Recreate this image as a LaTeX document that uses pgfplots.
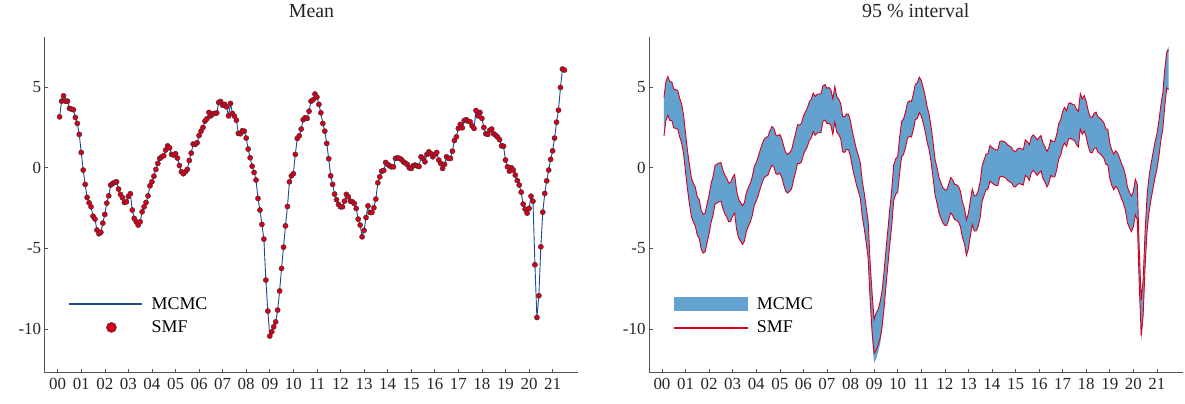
\documentclass[border=0pt]{standalone}
\usepackage{fontspec}
\setmainfont{Liberation Serif}
\usepackage{pgfplots}
\pgfplotsset{compat=1.18}
\usepackage{pgfplotstable}

\definecolor{lineblue}{RGB}{28,72,150}
\definecolor{smfred}{RGB}{214,0,28}
\definecolor{bandblue}{RGB}{99,161,207}
\definecolor{axisgray}{RGB}{85,85,85}

% monthly series, k = 0 is Jan 2000; m = mean, lo/hi = 95% interval
\pgfplotstableread{
k m lo hi
0 3.16 1.96 4.36
1 4.13 2.93 5.33
2 4.46 3.26 5.66
3 4.13 2.93 5.33
4 4.13 2.93 5.33
5 3.68 2.48 4.88
6 3.64 2.44 4.84
7 3.60 2.40 4.80
8 3.12 1.92 4.32
9 2.75 1.55 3.95
10 2.07 0.87 3.27
11 0.95 -0.25 2.15
12 -0.14 -1.34 1.06
13 -1.03 -2.23 0.17
14 -1.84 -3.04 -0.64
15 -2.17 -3.37 -0.97
16 -2.42 -3.62 -1.22
17 -3.00 -4.20 -1.80
18 -3.18 -4.38 -1.98
19 -3.86 -5.06 -2.66
20 -4.09 -5.29 -2.89
21 -4.00 -5.20 -2.80
22 -3.43 -4.63 -2.23
23 -2.89 -4.09 -1.69
24 -2.19 -3.39 -0.99
25 -1.74 -2.94 -0.54
26 -1.07 -2.27 0.13
27 -0.97 -2.17 0.23
28 -0.91 -2.11 0.29
29 -0.87 -2.07 0.33
30 -1.32 -2.52 -0.12
31 -1.65 -2.85 -0.45
32 -1.86 -3.06 -0.66
33 -2.15 -3.35 -0.95
34 -2.11 -3.31 -0.91
35 -1.78 -2.98 -0.58
36 -1.61 -2.81 -0.41
37 -2.62 -3.82 -1.42
38 -3.14 -4.34 -1.94
39 -3.35 -4.55 -2.15
40 -3.55 -4.75 -2.35
41 -3.35 -4.55 -2.15
42 -2.73 -3.93 -1.53
43 -2.42 -3.62 -1.22
44 -2.15 -3.35 -0.95
45 -1.74 -2.94 -0.54
46 -1.12 -2.32 0.08
47 -0.87 -2.07 0.33
48 -0.52 -1.72 0.68
49 -0.10 -1.30 1.10
50 0.27 -0.93 1.47
51 0.58 -0.62 1.78
52 0.68 -0.52 1.88
53 0.75 -0.45 1.95
54 1.10 -0.10 2.30
55 1.36 0.16 2.56
56 1.24 0.04 2.44
57 0.83 -0.37 2.03
58 0.79 -0.41 1.99
59 0.87 -0.33 2.07
60 0.60 -0.60 1.80
61 0.14 -1.06 1.34
62 -0.25 -1.45 0.95
63 -0.37 -1.57 0.83
64 -0.25 -1.45 0.95
65 -0.10 -1.30 1.10
66 0.45 -0.75 1.65
67 0.91 -0.29 2.11
68 1.47 0.27 2.67
69 1.45 0.25 2.65
70 1.55 0.35 2.75
71 2.00 0.80 3.20
72 2.27 1.07 3.47
73 2.50 1.30 3.70
74 2.89 1.69 4.09
75 3.04 1.84 4.24
76 3.43 2.23 4.63
77 3.22 2.02 4.42
78 3.35 2.15 4.55
79 3.37 2.17 4.57
80 3.40 2.20 4.60
81 4.05 2.90 5.10
82 4.11 2.96 5.16
83 3.88 2.73 4.93
84 3.93 2.78 4.98
85 3.78 2.63 4.83
86 3.22 2.07 4.27
87 3.99 2.84 5.04
88 3.37 2.22 4.42
89 3.20 2.05 4.25
90 2.95 1.80 4.00
91 2.13 0.98 3.18
92 2.11 0.96 3.16
93 2.29 1.14 3.34
94 2.27 1.12 3.32
95 1.84 0.69 2.89
96 1.16 0.01 2.21
97 0.62 -0.53 1.67
98 0.10 -1.05 1.15
99 -0.29 -1.44 0.76
100 -0.76 -1.91 0.29
101 -1.90 -3.05 -0.85
102 -2.62 -3.77 -1.57
103 -3.51 -4.66 -2.46
104 -4.42 -5.65 -3.35
105 -6.96 -8.20 -5.90
106 -8.88 -10.20 -7.80
107 -10.43 -11.50 -9.40
108 -10.17 -11.30 -9.00
109 -9.86 -11.00 -8.80
110 -9.55 -10.60 -8.35
111 -8.82 -9.90 -7.70
112 -7.64 -8.80 -6.55
113 -6.24 -7.40 -5.15
114 -4.92 -6.07 -3.87
115 -3.60 -4.75 -2.55
116 -2.40 -3.55 -1.35
117 -0.87 -2.02 0.18
118 -0.50 -1.65 0.55
119 -0.37 -1.52 0.68
120 0.83 -0.32 1.88
121 1.82 0.67 2.87
122 1.98 0.83 3.03
123 2.40 1.25 3.45
124 2.98 1.83 4.03
125 3.10 1.95 4.15
126 3.06 1.91 4.11
127 3.51 2.36 4.56
128 4.13 2.98 5.18
129 4.21 3.06 5.26
130 4.57 3.42 5.62
131 4.38 3.23 5.43
132 3.93 2.78 4.98
133 3.41 2.26 4.46
134 2.75 1.60 3.80
135 2.27 1.12 3.32
136 1.51 0.36 2.56
137 0.56 -0.59 1.61
138 -0.50 -1.65 0.55
139 -1.03 -2.18 0.02
140 -1.63 -2.78 -0.58
141 -1.98 -3.13 -0.93
142 -2.27 -3.42 -1.22
143 -2.42 -3.57 -1.37
144 -2.42 -3.57 -1.37
145 -2.07 -3.22 -1.02
146 -1.65 -2.80 -0.60
147 -1.80 -2.95 -0.75
148 -2.07 -3.22 -1.02
149 -2.11 -3.26 -1.06
150 -2.21 -3.36 -1.16
151 -2.52 -3.67 -1.47
152 -3.18 -4.33 -2.13
153 -3.55 -4.70 -2.50
154 -4.28 -5.43 -3.23
155 -3.88 -5.03 -2.83
156 -3.08 -4.23 -2.03
157 -2.36 -3.51 -1.31
158 -2.77 -3.92 -1.72
159 -2.77 -3.92 -1.72
160 -2.48 -3.63 -1.43
161 -1.94 -3.09 -0.89
162 -0.93 -2.08 0.12
163 -0.56 -1.71 0.49
164 -0.21 -1.36 0.84
165 -0.17 -1.32 0.88
166 0.33 -0.82 1.38
167 0.21 -0.94 1.26
168 0.12 -1.03 1.17
169 0.06 -1.09 1.11
170 0.06 -1.09 1.11
171 0.58 -0.57 1.63
172 0.62 -0.53 1.67
173 0.58 -0.57 1.63
174 0.52 -0.63 1.57
175 0.37 -0.78 1.42
176 0.29 -0.86 1.34
177 0.21 -0.94 1.26
178 0.00 -1.15 1.05
179 -0.04 -1.19 1.01
180 0.12 -1.03 1.17
181 0.17 -0.98 1.22
182 0.12 -1.03 1.17
183 0.08 -1.07 1.13
184 0.68 -0.47 1.73
185 0.58 -0.57 1.63
186 0.37 -0.78 1.42
187 0.83 -0.32 1.88
188 0.99 -0.16 2.04
189 0.87 -0.28 1.92
190 0.68 -0.47 1.73
191 0.83 -0.32 1.88
192 0.95 -0.20 2.00
193 0.48 -0.67 1.53
194 0.27 -0.88 1.32
195 -0.04 -1.19 1.01
196 0.21 -0.94 1.26
197 0.68 -0.47 1.73
198 0.58 -0.57 1.63
199 0.58 -0.57 1.63
200 1.03 -0.12 2.08
201 1.69 0.54 2.74
202 1.92 0.77 2.97
203 2.44 1.29 3.49
204 2.69 1.54 3.74
205 2.48 1.33 3.53
206 2.93 1.78 3.98
207 2.98 1.83 4.03
208 2.89 1.74 3.94
209 2.85 1.70 3.90
210 2.60 1.45 3.65
211 2.44 1.29 3.49
212 3.55 2.40 4.60
213 3.22 2.07 4.27
214 3.43 2.28 4.48
215 3.06 1.91 4.11
216 2.50 1.35 3.55
217 2.11 0.96 3.16
218 2.07 0.92 3.12
219 2.33 1.18 3.38
220 2.40 1.25 3.45
221 2.11 0.96 3.16
222 2.02 0.87 3.07
223 1.90 0.75 2.95
224 1.74 0.59 2.79
225 1.36 0.21 2.41
226 1.34 0.19 2.39
227 0.48 -0.67 1.53
228 0.06 -1.09 1.11
229 -0.21 -1.36 0.84
230 0.00 -1.15 1.05
231 -0.14 -1.29 0.91
232 -0.45 -1.60 0.60
233 -0.79 -1.94 0.26
234 -1.07 -2.22 -0.02
235 -1.51 -2.66 -0.46
236 -2.25 -3.40 -1.20
237 -2.56 -3.71 -1.51
238 -2.81 -3.96 -1.76
239 -2.52 -3.67 -1.47
240 -1.76 -2.91 -0.71
241 -2.07 -3.22 -1.02
242 -6.01 -7.20 -5.00
243 -9.28 -10.40 -8.20
244 -7.93 -9.10 -6.90
245 -4.90 -6.05 -3.90
246 -2.75 -3.90 -1.70
247 -1.59 -2.74 -0.54
248 -0.81 -1.96 0.24
249 -0.14 -1.29 0.91
250 0.52 -0.63 1.57
251 1.05 -0.10 2.10
252 1.84 0.69 2.89
253 2.83 1.68 3.88
254 3.57 2.42 4.62
255 4.98 3.80 6.10
256 6.12 4.95 7.15
257 6.06 4.85 7.30
}\data

% outlines of the places where the MCMC band reaches past the SMF lines
\pgfplotstableread{
k y
104 -5.65
105 -8.20
106 -10.20
107 -11.50
108 -11.30
109 -11.00
110 -10.60
111 -9.90
112 -8.80
113 -7.40
113 -7.45
112 -8.90
111 -10.15
110 -10.95
109 -11.45
108 -11.85
107 -12.10
106 -10.55
105 -8.35
104 -5.70
}\extA
\pgfplotstableread{
k y
241 -3.22
242 -7.20
243 -10.40
244 -9.10
245 -6.05
245 -6.10
244 -9.30
243 -10.75
242 -7.35
241 -3.25
}\extB
\pgfplotstableread{
k y
254 4.62
255 6.10
256 7.15
257 7.30
257 7.50
256 7.30
255 6.20
254 4.65
}\extC

\pgfplotsset{
  % legend symbols drawn as fills, so their colours come through
  blueline/.style={legend image code/.code={\fill[lineblue] (0bp,-0.45bp) rectangle (72bp,0.45bp);}},
  redline/.style={legend image code/.code={\fill[smfred] (0bp,-0.5bp) rectangle (73bp,0.5bp);}},
  bandbox/.style={legend image code/.code={\fill[bandblue] (0bp,-6.5bp) rectangle (73bp,6.5bp);}},
  bigdot/.style={legend image code/.code={\fill[white, fill opacity=0] (0bp,-1bp) rectangle (72bp,1bp);
    \filldraw[fill=smfred, draw=black!80, line width=0.5bp] (42bp,0bp) circle (5bp);}},
  panel/.style={
    scale only axis, width=533.6bp, height=335.7bp,
    xmin=-0.55, xmax=22.09, ymin=-12.71, ymax=8.1,
    axis x line=bottom, axis y line=left,
    axis line style={-, draw=axisgray, line width=0.8bp},
    tick align=inside, major tick length=3.5bp,
    tick style={draw=axisgray, line width=0.6bp},
    xtick={0,1,...,21},
    xticklabels={00,01,02,03,04,05,06,07,08,09,10,11,12,13,14,15,16,17,18,19,20,21},
    ytick={-10,-5,0,5}, yticklabels={-10,-5,0,5},
    tick label style={font=\fontsize{17}{20}\selectfont, text=black!85},
    xticklabel style={yshift=-2bp},
    title style={font=\fontsize{20}{23}\selectfont, text=black!85, at={(0.5,1)}, anchor=base, yshift=14bp},
    legend style={draw=none, fill=none, at={(0.04,0.17)}, anchor=west, row sep=6bp, column sep=8bp,
      font=\fontsize{18}{21}\selectfont},
    legend cell align=left,
  }
}

\begin{document}
\begin{tikzpicture}
\path (0bp,0bp) rectangle (1185bp,403bp);

\begin{axis}[panel, at={(44.7bp,30.3bp)}, anchor=south west, title={Mean}]
  \addlegendimage{blueline}
  \addlegendentry{MCMC}
  \addlegendimage{bigdot}
  \addlegendentry{SMF}
  \addplot[lineblue, line width=0.9bp, mark=*, mark size=2.6bp,
    mark options={fill=smfred, draw=black!80, line width=0.4bp}, forget plot]
    table[x expr={(\thisrow{k}+1)/12}, y=m] {\data};
\end{axis}

\begin{axis}[panel, at={(649bp,30.3bp)}, anchor=south west, title={95 \% interval}]
  \addlegendimage{bandbox}
  \addlegendentry{MCMC}
  \addlegendimage{redline}
  \addlegendentry{SMF}
  % band: lower edge, then the width stacked on it
  \addplot[draw=none, stack plots=y, forget plot]
    table[x expr={(\thisrow{k}+1)/12}, y=lo] {\data};
  \addplot[draw=none, fill=bandblue, stack plots=y, forget plot]
    table[x expr={(\thisrow{k}+1)/12}, y expr={\thisrow{hi}-\thisrow{lo}}] {\data} \closedcycle;
  \addplot[draw=none, fill=bandblue, forget plot] table[x expr={(\thisrow{k}+1)/12}, y=y] {\extA} -- cycle;
  \addplot[draw=none, fill=bandblue, forget plot] table[x expr={(\thisrow{k}+1)/12}, y=y] {\extB} -- cycle;
  \addplot[draw=none, fill=bandblue, forget plot] table[x expr={(\thisrow{k}+1)/12}, y=y] {\extC} -- cycle;
  \addplot[smfred, line width=0.9bp, forget plot] table[x expr={(\thisrow{k}+1)/12}, y=hi] {\data};
  \addplot[smfred, line width=0.9bp, forget plot] table[x expr={(\thisrow{k}+1)/12}, y=lo] {\data};
\end{axis}
\end{tikzpicture}
\end{document}
